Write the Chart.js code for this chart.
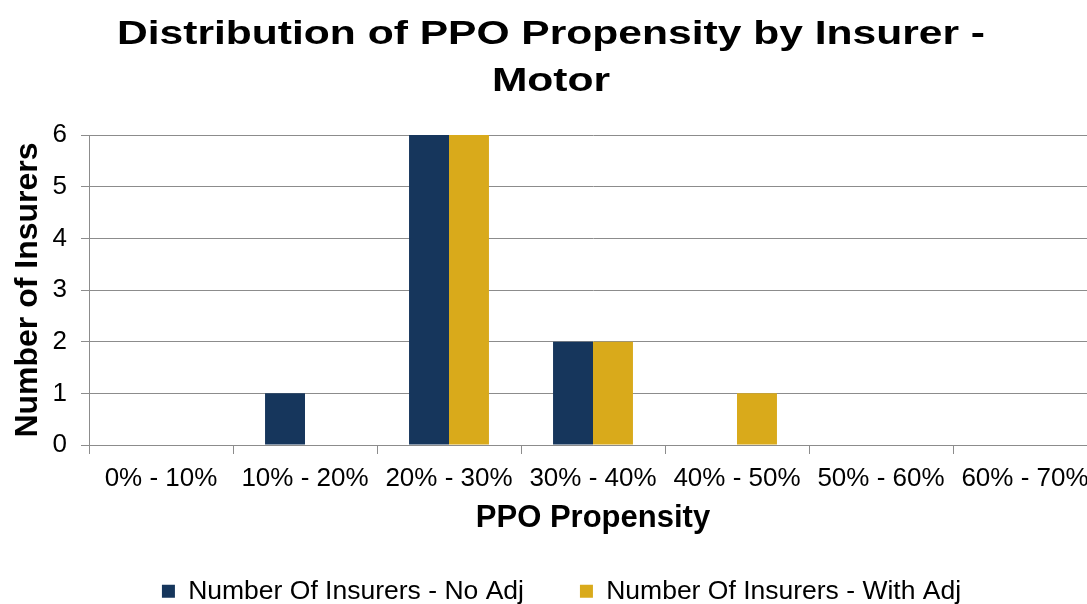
<!DOCTYPE html>
<html>
<head>
<meta charset="utf-8">
<script src="https://cdn.jsdelivr.net/npm/chart.js@4"></script>
<style>
    html, body { margin: 0; padding: 0; background: #ffffff; overflow: hidden; }
    canvas { display: block; }
</style>
</head>
<body>
<canvas id="ppoChart" width="1100" height="604"></canvas>
<script>
// data
let categories = ["0% - 10%", "10% - 20%", "20% - 30%", "30% - 40%", "40% - 50%", "50% - 60%", "60% - 70%"];
let noAdj = [0, 1, 6, 2, 0, 0, 0];
let withAdj = [0, 0, 6, 2, 1, 0, 0];
let seriesNames = ["Number Of Insurers - No Adj", "Number Of Insurers - With Adj"];
let yTicks = [0, 1, 2, 3, 4, 5, 6];

let gridGray = "#8c8c8c";
let navy = "#16365c";
let gold = "#d9aa1b";

// the title in the picture is stretched sideways, so widen it around its centre
let titleStretch = {
    id: "titleStretch",
    beforeDraw(chart) {
        let box = chart.titleBlock;
        if (!box || box._stretched) return;
        let draw = box.draw;
        box.draw = function (area) {
            let c = this.ctx;
            let cx = (this.left + this.right) / 2;
            c.save();
            c.translate(551, 0);
            c.scale(1.29, 1);
            c.translate(-cx, 0);
            draw.call(this, area);
            c.restore();
        };
        box._stretched = true;
    }
};

let ctx = document.getElementById("ppoChart");
let myChart = new Chart(ctx, {
    type: "bar",
    data: {
        labels: categories,
        datasets: [{
            label: seriesNames[0],
            data: noAdj,
            backgroundColor: navy,
            borderWidth: 0
        }, {
            label: seriesNames[1],
            data: withAdj,
            backgroundColor: gold,
            borderWidth: 0
        }]
    },
    options: {
        responsive: false,
        animation: false,
        layout: {
            padding: { left: 26, right: 3, top: 0, bottom: 0 }
        },
        datasets: {
            bar: {
                categoryPercentage: 0.555,
                barPercentage: 1.0
            }
        },
        scales: {
            x: {
                afterFit: function (scale) { scale.height = 77; },
                grid: {
                    drawOnChartArea: false,
                    drawTicks: true,
                    tickLength: 9,
                    color: gridGray,
                    offset: true
                },
                border: { display: true, color: gridGray },
                ticks: {
                    color: "#000000",
                    padding: 9,
                    maxRotation: 0,
                    font: { family: "'Liberation Sans', Arial, sans-serif", size: 26 }
                },
                title: {
                    display: true,
                    text: "PPO Propensity",
                    color: "#000000",
                    padding: { top: 0, bottom: -14.6 },
                    font: { family: "'Liberation Sans', Arial, sans-serif", size: 31, weight: "bold" }
                }
            },
            y: {
                min: 0,
                max: 6,
                afterFit: function (scale) { scale.width = 63; },
                afterBuildTicks: function (scale) {
                    scale.ticks = yTicks.map(v => ({ value: v }));
                },
                grid: {
                    color: gridGray,
                    tickLength: 8
                },
                border: { display: true, color: gridGray },
                ticks: {
                    color: "#000000",
                    padding: 14,
                    font: { family: "'Liberation Sans', Arial, sans-serif", size: 26 }
                },
                title: {
                    display: true,
                    text: "Number of Insurers",
                    color: "#000000",
                    padding: { top: -17, bottom: 0 },
                    font: { family: "'Liberation Sans', Arial, sans-serif", size: 32, weight: "bold" }
                }
            }
        },
        plugins: {
            title: {
                display: true,
                text: ["Distribution of PPO Propensity by Insurer -", "Motor"],
                color: "#000000",
                padding: { top: 11, bottom: 29 },
                font: { family: "'Liberation Sans', Arial, sans-serif", size: 33, weight: "bold", lineHeight: 1.44 }
            },
            legend: {
                position: "bottom",
                maxHeight: 82,
                labels: {
                    color: "#000000",
                    boxWidth: 13,
                    boxHeight: 13,
                    padding: 56,
                    font: { family: "'Liberation Sans', Arial, sans-serif", size: 26.5 }
                }
            },
            tooltip: { enabled: false }
        }
    },
    plugins: [titleStretch]
});
myChart.draw();
</script>
</body>
</html>
